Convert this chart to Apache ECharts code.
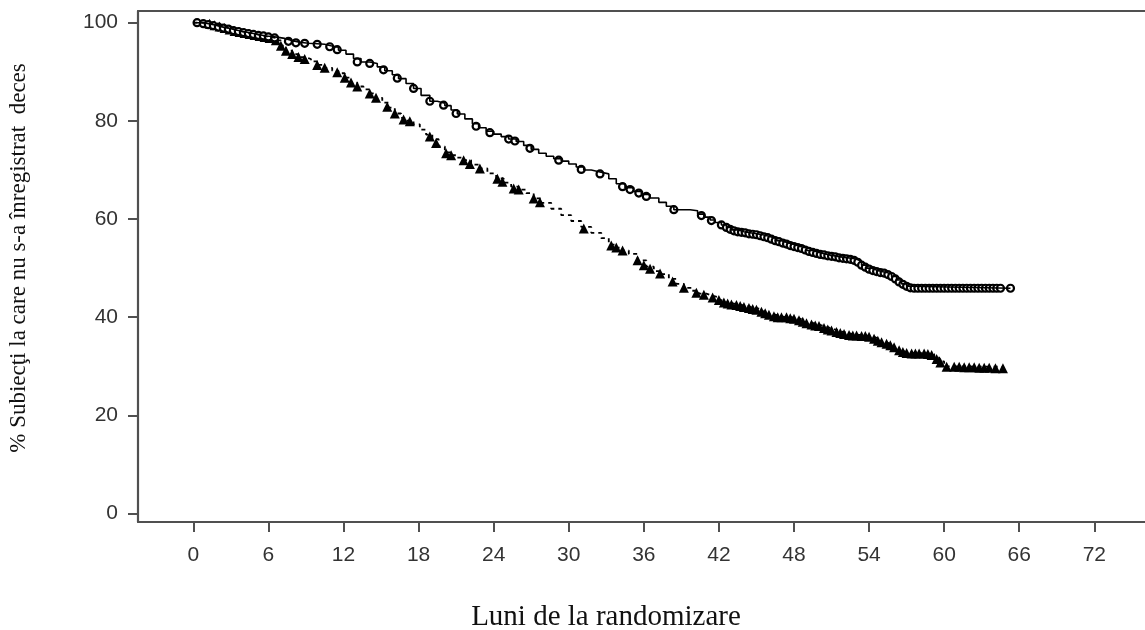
<!DOCTYPE html>
<html>
<head>
<meta charset="utf-8">
<title>Supravietuire</title>
<script src="https://cdn.jsdelivr.net/npm/echarts@6/dist/echarts.min.js"></script>
<style>
	html, body { margin: 0; padding: 0; background: #fff; }
	#chart { width: 1145px; height: 630px; }
</style>
</head>
<body>
<div id="chart"></div>
<script type="text/javascript">
	// ticks
	var xTicks = [0, 6, 12, 18, 24, 30, 36, 42, 48, 54, 60, 66, 72];
	var yTicks = [0, 20, 40, 60, 80, 100];

	// brat cu cercuri (linie continua): curba KM [luna, %]
	var circlePath = [
		[0,100],[0.6,99.9],[1.0,99.7],[1.4,99.5],[1.8,99.2],[2.2,99.0],[2.6,98.8],[3.0,98.5],[3.4,98.3],[3.8,98.1],
		[4.2,97.9],[4.6,97.7],[5.0,97.5],[5.4,97.3],[5.8,97.2],[6.3,97.0],[6.8,96.8],[7.3,96.4],[7.8,96.0],[8.5,95.8],
		[9.2,95.7],[9.9,95.6],[10.5,95.3],[11.0,95.0],[11.6,94.4],[12.2,93.6],[12.8,92.7],[13.4,92.0],[14.1,91.7],[14.7,91.0],
		[15.3,90.2],[15.9,89.4],[16.4,88.6],[17.0,87.6],[17.6,86.6],[18.2,85.2],[18.9,84.0],[19.5,83.6],[20.1,83.1],[20.6,82.2],
		[21.1,81.4],[21.7,80.4],[22.3,79.4],[22.8,78.6],[23.4,77.9],[24.0,77.3],[24.6,76.8],[25.2,76.3],[25.8,75.8],[26.4,75.0],
		[27.0,74.2],[27.6,73.4],[28.2,72.8],[28.8,72.3],[29.4,71.8],[30.0,71.2],[30.6,70.6],[31.2,70.0],[31.8,69.6],[32.5,69.2],
		[33.2,68.2],[33.8,67.2],[34.5,66.4],[35.2,65.6],[35.8,65.0],[36.5,64.3],[37.2,63.4],[37.8,62.6],[38.4,61.9],[39.7,61.7],
		[40.3,61.0],[40.8,60.4],[41.3,59.8],[41.7,59.3],[42.2,58.8],[42.6,58.3],[43.0,57.8],[43.5,57.4],[44.0,57.2],[44.5,57.0],
		[45.0,56.8],[45.5,56.5],[46.0,56.1],[46.5,55.6],[47.0,55.2],[47.5,54.8],[48.0,54.4],[48.5,54.1],[49.0,53.6],[49.5,53.2],
		[50.0,52.9],[50.5,52.6],[51.0,52.4],[51.5,52.2],[52.0,52.0],[52.6,51.8],[53.0,51.4],[53.4,50.6],[53.8,50.0],[54.2,49.6],
		[54.6,49.3],[55.0,49.1],[55.4,48.8],[55.8,48.3],[56.2,47.6],[56.6,46.8],[57.0,46.3],[57.4,45.9],[65.3,45.9]
	];
	// cenzurari (cercuri)
	var circleMarks = [
		[0.3,100],[0.8,99.8],[1.2,99.6],[1.6,99.4],[2.0,99.1],[2.4,98.9],[2.8,98.7],[3.2,98.4],[3.6,98.2],[4.0,98.0],
		[4.4,97.8],[4.8,97.6],[5.2,97.4],[5.6,97.3],[6.0,97.1],[6.5,96.9],
		[7.6,96.2],[8.2,95.9],[8.9,95.8],[9.9,95.6],[10.9,95.1],[11.5,94.5],[13.1,92.0],[14.1,91.7],[15.2,90.4],[16.3,88.7],
		[17.6,86.6],[18.9,84.0],[20.0,83.2],[21.0,81.5],[22.6,78.9],[23.7,77.6],[25.2,76.3],[25.7,75.9],[26.9,74.4],[29.2,72.0],
		[31.0,70.1],[32.5,69.2],[34.3,66.6],[34.9,66.0],[35.6,65.3],[36.2,64.6],[38.4,61.9],[40.6,60.7],[41.4,59.7],[42.2,58.8],
		[42.6,58.3],[42.9,57.9],[43.2,57.6],[43.5,57.4],[43.8,57.3],[44.1,57.2],[44.4,57.0],[44.7,56.9],[45.0,56.8],[45.3,56.6],
		[45.6,56.4],[45.9,56.2],[46.2,55.9],[46.5,55.6],[46.8,55.4],[47.1,55.1],[47.4,54.9],[47.7,54.6],[48.0,54.4],[48.3,54.2],
		[48.6,54.0],[48.9,53.7],[49.2,53.4],[49.5,53.2],[49.8,53.0],[50.1,52.8],[50.4,52.7],[50.7,52.5],[51.0,52.4],[51.3,52.3],
		[51.6,52.1],[51.9,52.0],[52.2,51.9],[52.5,51.8],[52.8,51.6],[53.1,51.2],[53.4,50.6],[53.7,50.2],[54.0,49.8],[54.3,49.5],
		[54.6,49.3],[54.9,49.1],[55.2,49.0],[55.5,48.7],[55.8,48.3],[56.1,47.8],[56.4,47.2],[56.7,46.7],[57.0,46.3],[57.3,46.0],
		[57.6,45.9],[57.9,45.9],[58.2,45.9],[58.5,45.9],[58.8,45.9],[59.1,45.9],[59.4,45.9],[59.7,45.9],[60.0,45.9],[60.3,45.9],
		[60.6,45.9],[60.9,45.9],[61.2,45.9],[61.5,45.9],[61.8,45.9],[62.1,45.9],[62.4,45.9],[62.7,45.9],[63.0,45.9],[63.3,45.9],
		[63.6,45.9],[63.9,45.9],[64.2,45.9],[64.5,45.9],[65.3,45.9]
	];

	// brat cu triunghiuri (linie intrerupta)
	var trianglePath = [
		[0,100],[0.9,100],[1.3,99.8],[1.7,99.5],[2.1,99.2],[2.5,98.9],[2.9,98.6],[3.3,98.3],[3.7,98.1],[4.1,97.9],
		[4.5,97.7],[4.9,97.5],[5.3,97.3],[5.7,97.1],[6.1,96.9],[6.6,96.4],[7.0,95.3],[7.4,94.3],[7.9,93.6],[8.4,93.0],
		[8.9,92.6],[9.4,92.1],[9.9,91.4],[10.5,90.8],[11.1,90.2],[11.6,89.7],[12.1,88.8],[12.6,87.8],[13.1,87.0],[13.6,86.4],
		[14.1,85.6],[14.6,84.7],[15.1,83.7],[15.6,82.7],[16.1,81.5],[16.6,80.6],[17.1,80.0],[17.6,79.3],[18.1,78.2],[18.6,77.2],
		[19.1,76.3],[19.6,74.8],[20.1,73.6],[20.6,73.0],[21.1,72.5],[21.6,72.0],[22.2,71.1],[22.8,70.3],[23.5,69.3],[24.2,68.3],
		[24.8,67.4],[25.4,66.6],[26.0,66.0],[26.6,65.3],[27.2,64.2],[27.8,63.3],[28.6,62.1],[29.4,60.8],[30.2,59.6],[31.0,58.4],
		[31.8,57.2],[32.6,56.1],[33.2,54.8],[33.7,54.2],[34.2,53.6],[34.8,52.9],[35.5,51.6],[36.2,50.3],[36.8,49.4],[37.4,48.8],
		[38.0,47.8],[38.6,46.8],[39.2,46.0],[39.8,45.4],[40.4,44.8],[41.0,44.4],[41.5,44.0],[42.0,43.5],[42.4,43.0],[42.8,42.7],
		[43.3,42.5],[43.8,42.3],[44.3,41.9],[44.8,41.7],[45.3,41.2],[45.8,40.7],[46.3,40.3],[46.8,40.0],[47.3,40.0],[47.8,39.8],
		[48.3,39.5],[48.8,39.0],[49.3,38.6],[49.8,38.3],[50.3,37.9],[50.8,37.5],[51.3,37.1],[51.8,36.8],[52.3,36.5],[52.8,36.3],
		[53.6,36.2],[54.0,36.0],[54.4,35.6],[54.8,35.1],[55.2,34.7],[55.6,34.4],[56.0,33.9],[56.4,33.3],[56.8,32.8],[57.2,32.6],
		[58.8,32.5],[59.2,32.0],[59.6,31.0],[60.0,30.0],[60.6,29.9],[64.7,29.6]
	];
	// cenzurari (triunghiuri)
	var triangleMarks = [
		[1.3,99.8],[1.7,99.5],[2.1,99.2],[2.5,98.9],[2.9,98.6],[3.3,98.3],[3.7,98.1],[4.1,97.9],[4.5,97.7],[4.9,97.5],
		[5.3,97.3],[5.7,97.1],[6.1,96.9],[6.6,96.4],
		[7.0,95.3],[7.4,94.3],[7.9,93.6],[8.4,93.0],[8.9,92.6],[9.9,91.4],[10.5,90.8],[11.5,89.9],[12.1,88.8],[12.6,87.8],
		[13.1,87.0],[14.1,85.6],[14.6,84.7],[15.5,82.9],[16.1,81.5],[16.8,80.3],[17.3,79.9],[18.9,76.8],[19.4,75.5],[20.2,73.4],
		[20.6,73.0],[21.6,72.0],[22.1,71.2],[22.9,70.3],[24.3,68.2],[24.7,67.6],[25.6,66.2],[26.0,66.0],[27.2,64.2],[27.7,63.4],
		[31.2,58.1],[33.4,54.6],[33.8,54.2],[34.3,53.6],[35.5,51.6],[36.0,50.6],[36.5,49.9],[37.3,48.9],[38.3,47.3],[39.2,46.0],
		[40.2,45.0],[40.8,44.6],[41.5,44.0],
		[42.0,43.5],[42.4,43.0],[42.7,42.8],[43.0,42.6],[43.4,42.5],[43.7,42.3],[44.0,42.1],[44.4,41.9],[44.7,41.7],[45.0,41.5],
		[45.4,41.1],[45.7,40.8],[46.0,40.5],[46.4,40.2],[46.7,40.0],[47.0,40.0],[47.4,40.0],[47.7,39.8],[48.0,39.7],[48.4,39.4],
		[48.7,39.1],[49.0,38.8],[49.4,38.5],[49.7,38.3],[50.0,38.2],[50.4,37.8],[50.7,37.5],[51.0,37.3],[51.4,37.0],[51.7,36.8],
		[52.0,36.6],[52.4,36.4],[52.7,36.3],[53.0,36.3],[53.4,36.2],[53.7,36.2],[54.0,36.0],[54.4,35.6],[54.7,35.2],[55.0,34.9],
		[55.4,34.6],[55.7,34.3],[56.0,33.9],[56.4,33.3],[56.7,32.9],[57.0,32.7],[57.4,32.6],[57.7,32.6],[58.0,32.6],[58.4,32.6],
		[58.7,32.5],[59.0,32.3],[59.4,31.5],[59.7,30.8],[60.2,29.9],[60.8,29.9],[61.2,29.9],[61.6,29.8],[62.0,29.8],[62.4,29.8],
		[62.8,29.7],[63.2,29.7],[63.6,29.7],[64.1,29.6],[64.7,29.6]
	];

	var axisGrey = '#505050';
	var xMin = -4.42, xMax = 76.05;
	var labelStyle = { color: '#333', fontSize: 21, fontFamily: 'Liberation Sans, Arial, sans-serif' };

	var option = {
		animation: false,
		backgroundColor: '#fff',
		grid: { left: 138, top: 11, right: 0, bottom: 108 },
		xAxis: [{
			type: 'value',
			min: xMin,
			max: xMax,
			splitLine: { show: false },
			axisLine: { show: true, onZero: false, lineStyle: { color: axisGrey, width: 2.2 } },
			axisTick: { show: true, length: 10, customValues: xTicks, lineStyle: { color: axisGrey, width: 2 } },
			axisLabel: Object.assign({ margin: 23, customValues: xTicks }, labelStyle)
		}, {
			// linia de sus a cadrului
			type: 'value',
			position: 'top',
			min: xMin,
			max: xMax,
			splitLine: { show: false },
			axisLine: { show: true, onZero: false, lineStyle: { color: axisGrey, width: 2.2 } },
			axisTick: { show: false },
			axisLabel: { show: false }
		}],
		yAxis: {
			type: 'value',
			min: -1.71,
			max: 102.38,
			splitLine: { show: false },
			axisLine: { show: true, onZero: false, lineStyle: { color: axisGrey, width: 2.2 } },
			axisTick: { show: true, length: 10, customValues: yTicks, lineStyle: { color: axisGrey, width: 2 } },
			axisLabel: Object.assign({ margin: 20, customValues: yTicks }, labelStyle)
		},
		graphic: [
			{
				type: 'text', x: 606, y: 617,
				style: { text: 'Luni de la randomizare', fontSize: 29, fontFamily: 'Liberation Serif, Times New Roman, serif',
					fill: '#111', align: 'center', verticalAlign: 'middle' }
			},
			{
				type: 'text', x: 19, y: 258, rotation: Math.PI / 2,
				style: { text: '% Subiecţi la care nu s-a înregistrat  deces', fontSize: 23,
					fontFamily: 'Liberation Serif, Times New Roman, serif',
					fill: '#111', align: 'center', verticalAlign: 'middle' }
			}
		],
		series: [
			{
				name: 'triunghiuri', type: 'line', step: 'end', data: trianglePath,
				showSymbol: false, lineStyle: { color: '#000', width: 1.8, type: [4, 4] }
			},
			{
				name: 'triunghiuri-cenz', type: 'scatter', data: triangleMarks,
				symbol: 'triangle', symbolSize: 10, itemStyle: { color: '#000', opacity: 1 }
			},
			{
				name: 'cercuri', type: 'line', step: 'end', data: circlePath,
				showSymbol: false, lineStyle: { color: '#000', width: 1.6 }
			},
			{
				name: 'cercuri-cenz', type: 'scatter', data: circleMarks,
				symbol: 'circle', symbolSize: 7,
				itemStyle: { color: '#fff', borderColor: '#000', borderWidth: 2.2, opacity: 1 }
			}
		]
	};

	var chart = echarts.init(document.getElementById('chart'));
	chart.setOption(option);
</script>
</body>
</html>
